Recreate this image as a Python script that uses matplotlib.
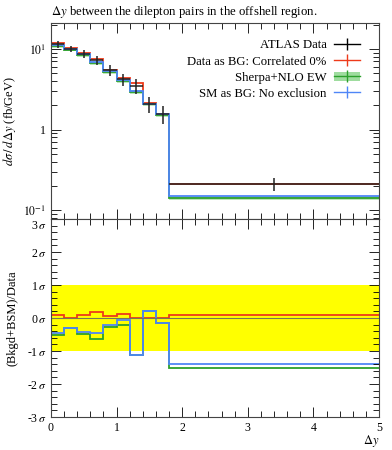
import numpy as np
import matplotlib
matplotlib.use("Agg")
import matplotlib.pyplot as plt
import matplotlib.transforms as mtransforms
from matplotlib.lines import Line2D
from matplotlib.patches import Patch
from matplotlib.ticker import MultipleLocator, FixedLocator, LogLocator, NullFormatter

plt.rcParams['font.family'] = ['Liberation Serif', 'DejaVu Serif']
plt.rcParams['mathtext.fontset'] = 'stix'
plt.rcParams['font.size'] = 9

# bin edges in dy
edges = [0.0, 0.2, 0.4, 0.6, 0.8, 1.0, 1.2, 1.4, 1.6, 1.8, 5.0]

# main panel values (fb/GeV)
data_vals = [11.4, 10.1, 8.73, 7.29, 5.45, 4.22, 3.50, 2.08, 1.57, 0.213]
data_errs = [1.0, 0.9, 0.9, 0.9, 0.8, 0.7, 0.7, 0.45, 0.4, 0.04]
red_vals = [11.7, 10.2, 9.0, 7.59, 5.55, 4.31, 3.78, 2.12, 1.58, 0.213]
green_vals = [10.8, 9.8, 8.3, 6.7, 5.2, 3.95, 2.95, 2.05, 1.5, 0.143]
blue_vals = [11.1, 10.05, 8.56, 6.97, 5.34, 4.07, 3.03, 2.08, 1.54, 0.149]
green_band = 0.05  # relative width of the Sherpa band

# ratio panel, in sigma
red_sig = [0.1, 0.0, 0.1, 0.18, 0.07, 0.13, 0.0, 0.0, 0.0, 0.08]
green_sig = [-0.51, -0.31, -0.49, -0.63, -0.26, -0.2, -1.12, 0.2, -0.15, -1.50]
blue_sig = [-0.46, -0.31, -0.43, -0.46, -0.2, -0.07, -1.12, 0.2, -0.15, -1.40]

red_c = '#ee3a1a'
green_c = '#2ca02c'
blue_c = '#4f86f7'

edges = np.array(edges)
centers = (edges[:-1] + edges[1:]) / 2
halfw = (edges[1:] - edges[:-1]) / 2
green_arr = np.array(green_vals)

fig = plt.figure(figsize=(3.92, 4.5), dpi=100)
ax = fig.add_axes([0.130, 0.5133, 0.837, 0.4357])
rax = fig.add_axes([0.130, 0.0733, 0.837, 0.44])

# --- main panel
ax.stairs(green_arr * (1 + green_band), edges, baseline=green_arr * (1 - green_band),
          fill=True, color='#9fdc9f', alpha=0.7, lw=0)
ax.stairs(red_vals, edges, baseline=None, color=red_c, lw=1.3)
ax.stairs(green_vals, edges, baseline=None, color=green_c, lw=1.3)
ax.stairs(blue_vals, edges, baseline=None, color=blue_c, lw=1.3)
ax.errorbar(centers, data_vals, xerr=halfw, yerr=data_errs, fmt='none',
            ecolor='#222222', elinewidth=1.1, capsize=0)

ax.set_yscale('log')
ax.set_xlim(0, 5)
ax.set_ylim(0.078, 21)
ax.yaxis.set_major_locator(FixedLocator([0.1, 1, 10]))
ax.set_yticklabels([r'$10^{-1}$', '1', r'$10^{1}$'])
ax.yaxis.set_minor_locator(LogLocator(base=10, subs=np.arange(2, 10)))
ax.yaxis.set_minor_formatter(NullFormatter())
ax.xaxis.set_major_locator(MultipleLocator(1))
ax.xaxis.set_minor_locator(MultipleLocator(0.2))
ax.tick_params(axis='x', labelbottom=False)
ax.set_ylabel(r'$d\sigma\,/\,d\Delta y$ (fb/GeV)', fontsize=9)
ax.set_title(r'$\Delta y$ between the dilepton pairs in the offshell region.',
             loc='left', fontsize=9.2, pad=6)

handles = [
    Line2D([], [], color='black', marker='|', markersize=8, lw=1.0, mew=1.0),
    Line2D([], [], color=red_c, marker='|', markersize=8, lw=1.0, mew=1.0),
    (Patch(facecolor='#9fdc9f', edgecolor='none'),
     Line2D([], [], color=green_c, marker='|', markersize=8, lw=1.0, mew=1.0)),
    Line2D([], [], color=blue_c, marker='|', markersize=8, lw=1.0, mew=1.0),
]
labels = ['ATLAS Data', 'Data as BG: Correlated 0%', 'Sherpa+NLO EW', 'SM as BG: No exclusion']
ax.legend(handles, labels, loc='upper right', bbox_to_anchor=(0.965, 0.955),
          markerfirst=False, frameon=False, fontsize=9.2, handlelength=2.0,
          handletextpad=0.6, labelspacing=0.32, borderaxespad=0.2)

# --- ratio panel
rax.axhspan(-1, 1, color='#ffff00', lw=0)
rax.axhline(0, color='#777755', lw=0.8)
rax.stairs(red_sig, edges, baseline=None, color=red_c, lw=1.3)
rax.stairs(green_sig, edges, baseline=None, color=green_c, lw=1.3)
rax.stairs(blue_sig, edges, baseline=None, color=blue_c, lw=1.3)

rax.set_xlim(0, 5)
rax.set_ylim(-3, 3)
rax.yaxis.set_major_locator(MultipleLocator(1))
rax.yaxis.set_minor_locator(MultipleLocator(0.2))
rax.set_yticks([-3, -2, -1, 0, 1, 2, 3])
rax.set_yticklabels([r'-3$\,\sigma$', r'-2$\,\sigma$', r'-1$\,\sigma$', r'0$\,\sigma$',
                     r'1$\,\sigma$', r'2$\,\sigma$', r'3$\,\sigma$'])
rax.xaxis.set_major_locator(MultipleLocator(1))
rax.xaxis.set_minor_locator(MultipleLocator(0.2))
rax.set_ylabel('(Bkgd+BSM)/Data', fontsize=9)
rax.set_xlabel(r'$\Delta y$', fontsize=9, loc='right')

for a in (ax, rax):
    a.tick_params(which='both', direction='in', top=True, right=True, labelsize=8.5)
    a.tick_params(which='major', length=7, width=0.6)
    a.tick_params(which='minor', length=4, width=0.6)
    for s in a.spines.values():
        s.set_linewidth(0.8)
        s.set_color('#444444')

# nudge the top ratio label down so it clears the 10^-1 label
top_lab = rax.get_yticklabels()[-1]
top_lab.set_transform(top_lab.get_transform() +
                      mtransforms.ScaledTranslation(0, -4 / 72, fig.dpi_scale_trans))

ax.yaxis.set_label_coords(-0.1, 0.5)
rax.yaxis.set_label_coords(-0.1, 0.5)
rax.xaxis.set_label_coords(1.0, -0.082)

fig.savefig('out.png', dpi=100)
